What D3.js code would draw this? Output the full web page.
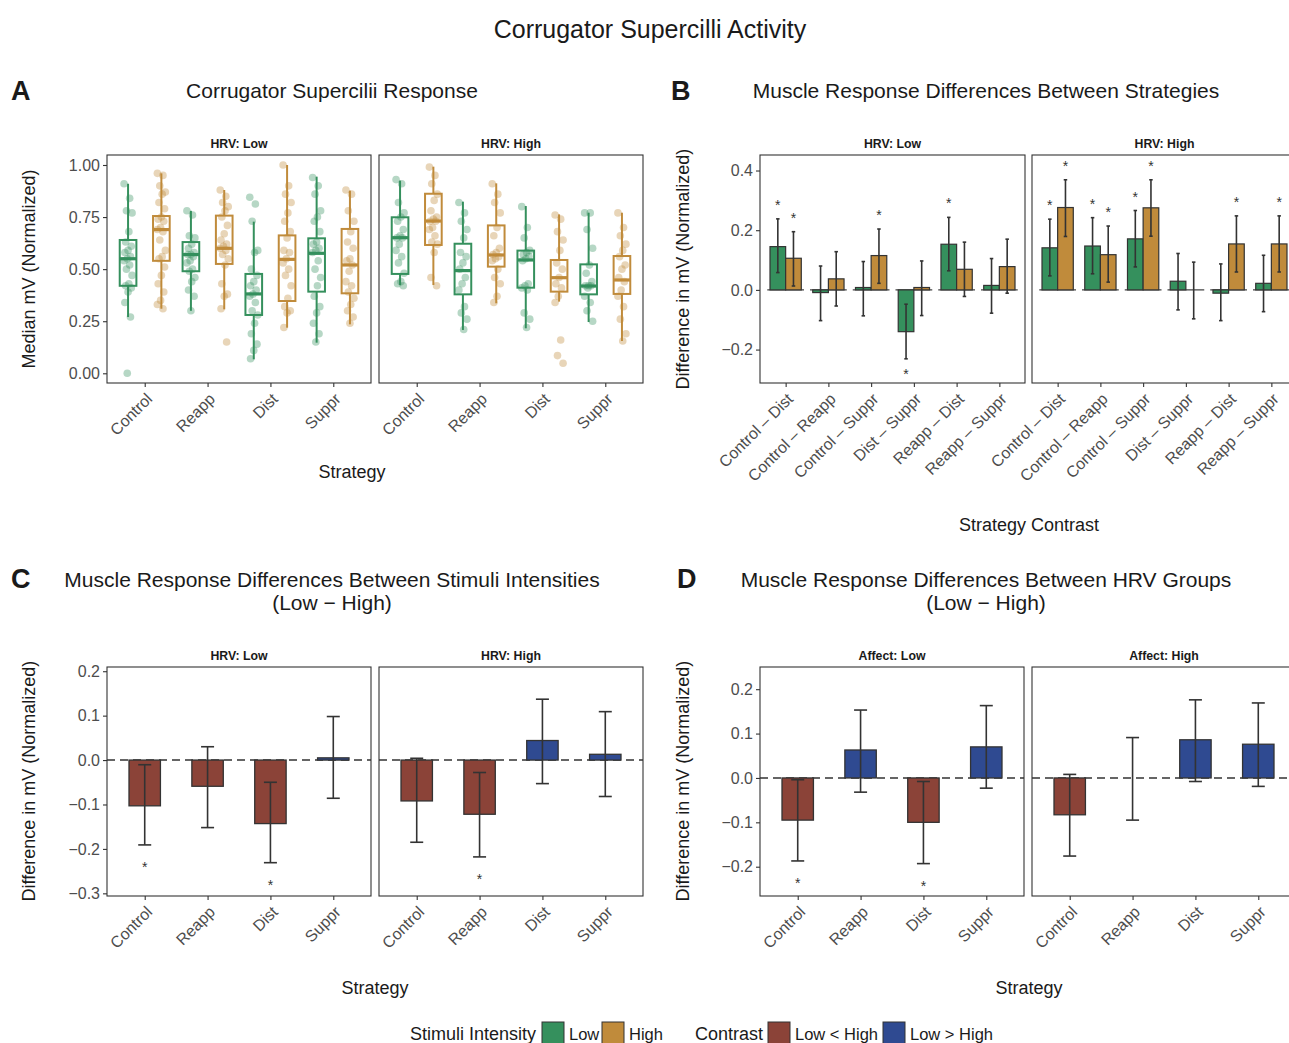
<!DOCTYPE html>
<html><head><meta charset="utf-8">
<script src="https://cdn.jsdelivr.net/npm/d3@7"></script>
<style>
body{margin:0;background:#fff}
svg text{font-family:"Liberation Sans",Arial,Helvetica,sans-serif}
</style>
</head><body>
<svg id="chart" width="1289" height="1043"></svg>
<script>
// ---------------- DATA ----------------
const strategies = ["Control", "Reapp", "Dist", "Suppr"];
const intensities = ["Low", "High"];
const hrvFacets = ["HRV: Low", "HRV: High"];
const affectFacets = ["Affect: Low", "Affect: High"];
const contrasts = ["Control – Dist", "Control – Reapp", "Control – Suppr", "Dist – Suppr", "Reapp – Dist", "Reapp – Suppr"];

const yTicksA = [0, 0.25, 0.5, 0.75, 1.0];
const yTicksB = [-0.2, 0, 0.2, 0.4];
const yTicksC = [-0.3, -0.2, -0.1, 0, 0.1, 0.2];
const yTicksD = [-0.2, -0.1, 0, 0.1, 0.2];

// Panel A: box stats [lower whisker, q1, median, q3, upper whisker] and observed points
const boxHRVLow = [
  {strategy:"Control", intensity:"Low",  stats:[0.27,0.42,0.55,0.64,0.91], points:[0.91,0.84,0.78,0.77,0.68,0.63,0.61,0.59,0.58,0.56,0.55,0.54,0.52,0.50,0.47,0.43,0.42,0.41,0.39,0.34,0.27,0.00]},
  {strategy:"Control", intensity:"High", stats:[0.31,0.54,0.69,0.755,0.96], points:[0.96,0.95,0.90,0.87,0.86,0.82,0.79,0.75,0.74,0.73,0.70,0.69,0.68,0.64,0.59,0.56,0.55,0.51,0.47,0.43,0.39,0.35,0.33,0.31]},
  {strategy:"Reapp",   intensity:"Low",  stats:[0.30,0.49,0.57,0.63,0.78], points:[0.78,0.76,0.66,0.65,0.62,0.60,0.58,0.57,0.57,0.56,0.54,0.53,0.50,0.49,0.46,0.44,0.40,0.37,0.30]},
  {strategy:"Reapp",   intensity:"High", stats:[0.307,0.525,0.60,0.757,0.88], points:[0.88,0.85,0.82,0.80,0.78,0.75,0.71,0.67,0.64,0.62,0.61,0.60,0.59,0.57,0.55,0.52,0.43,0.38,0.37,0.31,0.15]},
  {strategy:"Dist",    intensity:"Low",  stats:[0.067,0.28,0.381,0.477,0.728], points:[0.845,0.813,0.73,0.59,0.58,0.50,0.47,0.44,0.42,0.40,0.38,0.37,0.34,0.30,0.28,0.24,0.19,0.14,0.11,0.07]},
  {strategy:"Dist",    intensity:"High", stats:[0.219,0.347,0.547,0.662,1.0], points:[1.0,0.90,0.86,0.82,0.77,0.73,0.68,0.65,0.59,0.58,0.55,0.53,0.50,0.47,0.42,0.36,0.32,0.30,0.29,0.22]},
  {strategy:"Suppr",   intensity:"Low",  stats:[0.147,0.392,0.576,0.648,0.944], points:[0.94,0.90,0.86,0.78,0.75,0.73,0.68,0.63,0.62,0.60,0.59,0.58,0.54,0.50,0.46,0.42,0.37,0.32,0.29,0.24,0.19,0.15]},
  {strategy:"Suppr",   intensity:"High", stats:[0.235,0.384,0.52,0.693,0.877], points:[0.88,0.86,0.78,0.73,0.68,0.63,0.60,0.55,0.54,0.52,0.49,0.44,0.42,0.39,0.36,0.33,0.30,0.27,0.24]}
];
const boxHRVHigh = [
  {strategy:"Control", intensity:"Low",  stats:[0.424,0.477,0.651,0.749,0.925], points:[0.93,0.91,0.82,0.77,0.75,0.73,0.69,0.66,0.65,0.65,0.62,0.59,0.56,0.53,0.48,0.44,0.43,0.42]},
  {strategy:"Control", intensity:"High", stats:[0.424,0.616,0.731,0.862,0.992], points:[0.99,0.95,0.91,0.86,0.83,0.78,0.75,0.74,0.73,0.73,0.70,0.69,0.66,0.63,0.62,0.58,0.46,0.42]},
  {strategy:"Reapp",   intensity:"Low",  stats:[0.208,0.379,0.493,0.622,0.824], points:[0.82,0.77,0.73,0.69,0.65,0.58,0.56,0.53,0.50,0.46,0.43,0.40,0.32,0.29,0.26,0.21]},
  {strategy:"Reapp",   intensity:"High", stats:[0.336,0.512,0.568,0.71,0.912], points:[0.91,0.86,0.82,0.77,0.70,0.66,0.60,0.58,0.57,0.56,0.55,0.54,0.50,0.46,0.43,0.37,0.34]},
  {strategy:"Dist",    intensity:"Low",  stats:[0.216,0.411,0.544,0.589,0.803], points:[0.80,0.70,0.65,0.59,0.58,0.57,0.56,0.55,0.54,0.43,0.42,0.41,0.40,0.29,0.26,0.22]},
  {strategy:"Dist",    intensity:"High", stats:[0.344,0.392,0.459,0.544,0.763], points:[0.76,0.74,0.68,0.64,0.59,0.53,0.50,0.46,0.43,0.41,0.37,0.34,0.16,0.085,0.048]},
  {strategy:"Suppr",   intensity:"Low",  stats:[0.246,0.379,0.419,0.523,0.771], points:[0.77,0.77,0.69,0.60,0.52,0.48,0.44,0.42,0.42,0.42,0.41,0.37,0.34,0.30,0.25]},
  {strategy:"Suppr",   intensity:"High", stats:[0.155,0.381,0.448,0.563,0.771], points:[0.77,0.70,0.66,0.62,0.59,0.56,0.52,0.50,0.46,0.44,0.40,0.37,0.32,0.26,0.19,0.155]}
];

// Panel B: [estimate, lower CI, upper CI, significant]
const diffHRVLowLowInt  = [[0.145,0.058,0.238,1],[-0.009,-0.103,0.080,0],[0.008,-0.087,0.095,0],[-0.140,-0.231,-0.048,1],[0.153,0.064,0.243,1],[0.015,-0.078,0.105,0]];
const diffHRVLowHighInt = [[0.106,0.013,0.195,1],[0.037,-0.054,0.128,0],[0.115,0.022,0.204,1],[0.008,-0.086,0.097,0],[0.069,-0.022,0.160,0],[0.078,-0.011,0.170,0]];
const diffHRVHighLowInt = [[0.141,0.047,0.237,1],[0.147,0.054,0.242,1],[0.171,0.077,0.266,1],[0.029,-0.067,0.122,0],[-0.011,-0.103,0.087,0],[0.022,-0.073,0.116,0]];
const diffHRVHighHighInt= [[0.276,0.179,0.369,1],[0.118,0.026,0.214,1],[0.275,0.180,0.369,1],[0.000,-0.097,0.093,0],[0.154,0.060,0.248,1],[0.154,0.060,0.248,1]];

// Panel C: intensity contrast (Low - High) by strategy
const intensHRVLow  = [[-0.103,-0.191,-0.0105,1],[-0.059,-0.152,0.030,0],[-0.143,-0.231,-0.050,1],[0.005,-0.086,0.098,0]];
const intensHRVHigh = [[-0.092,-0.185,0.004,0],[-0.122,-0.218,-0.028,1],[0.044,-0.053,0.137,0],[0.013,-0.082,0.109,0]];

// Panel D: HRV contrast (Low - High) by strategy
const hrvAffectLow  = [[-0.095,-0.187,-0.004,1],[0.063,-0.032,0.153,0],[-0.100,-0.193,-0.008,1],[0.070,-0.023,0.163,0]];
const hrvAffectHigh = [[-0.083,-0.176,0.008,0],[0.000,-0.095,0.091,0],[0.086,-0.008,0.176,0],[0.076,-0.019,0.169,0]];

// ---------------- STYLE ----------------
const GREEN = "#35905D", GOLD = "#C08B3B", RED = "#8B4338", BLUE = "#2F4A91";
const INK = "#333333", TICKTXT = "#4D4D4D";
const intensityColor = {Low: GREEN, High: GOLD};

const svg = d3.select("#chart");

function txt(x, y, s, size, opts = {}) {
  const t = svg.append("text").attr("x", x).attr("y", y).text(s)
    .attr("font-size", size).attr("fill", opts.fill || "#1a1a1a")
    .attr("text-anchor", opts.anchor || "middle");
  if (opts.bold) t.attr("font-weight", "bold");
  if (opts.rotate) t.attr("transform", `rotate(-90,${x},${y})`);
  return t;
}

function frame(x0, x1, y0, y1, cats, strip) {
  const x = d3.scalePoint().domain(cats).range([x0, x1]).padding(0.6);
  svg.append("rect").attr("x", x0).attr("y", y0).attr("width", x1 - x0).attr("height", y1 - y0)
    .attr("fill", "none").attr("stroke", INK).attr("stroke-width", 1.1);
  const g = svg.append("g").attr("transform", `translate(0,${y1})`)
    .call(d3.axisBottom(x).tickSize(4).tickSizeOuter(0));
  g.select(".domain").remove();
  g.selectAll(".tick line").attr("stroke", INK).attr("stroke-width", 1.1);
  g.selectAll(".tick text").attr("fill", TICKTXT).attr("font-size", 16)
    .attr("font-family", '"Liberation Sans",Arial,sans-serif')
    .attr("text-anchor", "end").attr("x", 0).attr("y", 0).attr("dy", 0)
    .attr("transform", "translate(8,17) rotate(-45)");
  txt((x0 + x1) / 2, y0 - 7.5, strip, 12.3, {bold: true, fill: "#1a1a1a"});
  return x;
}

function yAxis(y, x0, ticks, fmt) {
  const g = svg.append("g").attr("transform", `translate(${x0},0)`)
    .call(d3.axisLeft(y).tickValues(ticks).tickFormat(fmt).tickSize(4).tickPadding(3));
  g.select(".domain").remove();
  g.selectAll(".tick line").attr("stroke", INK).attr("stroke-width", 1.1);
  g.selectAll(".tick text").attr("fill", TICKTXT).attr("font-size", 16)
    .attr("font-family", '"Liberation Sans",Arial,sans-serif');
}

const fmt1 = d3.format(".1f");
const fmt2 = d3.format(".2f");

// ---------------- TITLES ----------------
txt(650, 38, "Corrugator Supercilli Activity", 25);
txt(11, 100, "A", 27, {bold: true, anchor: "start"});
txt(671, 100, "B", 27, {bold: true, anchor: "start"});
txt(11, 588, "C", 27, {bold: true, anchor: "start"});
txt(677, 588, "D", 27, {bold: true, anchor: "start"});
txt(332, 98, "Corrugator Supercilii Response", 21);
txt(986, 98, "Muscle Response Differences Between Strategies", 21);
txt(332, 587, "Muscle Response Differences Between Stimuli Intensities", 21);
txt(332, 610, "(Low − High)", 21);
txt(986, 587, "Muscle Response Differences Between HRV Groups", 21);
txt(986, 610, "(Low − High)", 21);

// ---------------- PANEL A ----------------
const yA = d3.scaleLinear().domain([-0.0466, 1.048]).range([383, 155]);
yAxis(yA, 107, yTicksA, fmt2);
txt(35, 269, "Median mV (Normalized)", 18, {rotate: true});
txt(352, 478, "Strategy", 18);

[[107, 371, hrvFacets[0], boxHRVLow], [379, 643, hrvFacets[1], boxHRVHigh]].forEach(([x0, x1, lab, data]) => {
  const x = frame(x0, x1, 155, 383, strategies, lab);
  const step = x.step();
  const off = {Low: -0.265 * step, High: 0.265 * step};
  const bw = 0.265 * step;
  data.forEach(d => {
    const cx = x(d.strategy) + off[d.intensity];
    const col = intensityColor[d.intensity];
    const [lo, q1, md, q3, hi] = d.stats;
    const g = svg.append("g");
    g.append("line").attr("x1", cx).attr("x2", cx).attr("y1", yA(hi)).attr("y2", yA(q3)).attr("stroke", col).attr("stroke-width", 2);
    g.append("line").attr("x1", cx).attr("x2", cx).attr("y1", yA(q1)).attr("y2", yA(lo)).attr("stroke", col).attr("stroke-width", 2);
    g.append("rect").attr("x", cx - bw / 2).attr("y", yA(q3)).attr("width", bw).attr("height", yA(q1) - yA(q3))
      .attr("fill", "none").attr("stroke", col).attr("stroke-width", 2);
    g.append("line").attr("x1", cx - bw / 2).attr("x2", cx + bw / 2).attr("y1", yA(md)).attr("y2", yA(md)).attr("stroke", col).attr("stroke-width", 3.2);
    g.selectAll("circle").data(d.points).join("circle")
      .attr("cx", (v, i) => cx + (((i * 7) % 11) - 5) * 0.8)
      .attr("cy", v => yA(v)).attr("r", 3.8)
      .attr("fill", col).attr("fill-opacity", 0.36);
  });
});

// ---------------- PANEL B ----------------
const yB = d3.scaleLinear().domain([-0.312, 0.452]).range([383, 155]);
yAxis(yB, 760, yTicksB, fmt1);
txt(689, 269, "Difference in mV (Normalized)", 18, {rotate: true});
txt(1029, 531, "Strategy Contrast", 18);

function errbar(cx, lo, hi, y, cap) {
  svg.append("line").attr("x1", cx).attr("x2", cx).attr("y1", y(lo)).attr("y2", y(hi)).attr("stroke", INK).attr("stroke-width", 1.6);
  [lo, hi].forEach(v => svg.append("line").attr("x1", cx - cap / 2).attr("x2", cx + cap / 2).attr("y1", y(v)).attr("y2", y(v)).attr("stroke", INK).attr("stroke-width", 1.6));
}
function star(cx, cyCenter) {
  svg.append("text").attr("x", cx).attr("y", cyCenter + 8).attr("text-anchor", "middle")
    .attr("font-size", 14).attr("fill", INK).text("*");
}

[[760, 1025, hrvFacets[0], diffHRVLowLowInt, diffHRVLowHighInt], [1032, 1297, hrvFacets[1], diffHRVHighLowInt, diffHRVHighHighInt]]
.forEach(([x0, x1, lab, lowArr, highArr]) => {
  const x = frame(x0, x1, 155, 383, contrasts, lab);
  const step = x.step();
  const bw = 0.366 * step;
  contrasts.forEach((c, i) => {
    svg.append("line").attr("x1", x(c) - 0.43 * step).attr("x2", x(c) + 0.43 * step)
      .attr("y1", yB(0)).attr("y2", yB(0)).attr("stroke", "#444").attr("stroke-width", 1.3);
  });
  [["Low", lowArr, -1], ["High", highArr, 1]].forEach(([int, arr, side]) => {
    arr.forEach((d, i) => {
      const [est, lo, hi, sig] = d;
      const left = side < 0 ? x(contrasts[i]) - bw : x(contrasts[i]);
      const cx = left + bw / 2;
      svg.append("rect").attr("x", left).attr("width", bw)
        .attr("y", yB(Math.max(est, 0))).attr("height", Math.abs(yB(est) - yB(0)))
        .attr("fill", intensityColor[int]).attr("stroke", INK).attr("stroke-width", 1.2);
      errbar(cx, lo, hi, yB, 3.5);
      if (sig) {
        if (est > 0) star(cx, yB(hi) - 17);
        else star(cx, yB(lo) + 12);
      }
    });
  });
});

// ---------------- PANELS C & D ----------------
function contrastPanel(facets, yScale, ticks, ytitleX, xtitleX) {
  yAxis(yScale, facets[0][0], ticks, fmt1);
  txt(ytitleX, 781, "Difference in mV (Normalized)", 18, {rotate: true});
  txt(xtitleX, 994, "Strategy", 18);
  facets.forEach(([x0, x1, lab, arr]) => {
    const x = frame(x0, x1, 667, 896, strategies, lab);
    const step = x.step();
    const bw = 0.5 * step;
    svg.append("line").attr("x1", x0).attr("x2", x1).attr("y1", yScale(0)).attr("y2", yScale(0))
      .attr("stroke", INK).attr("stroke-width", 1.6).attr("stroke-dasharray", "8,5");
    arr.forEach((d, i) => {
      const [est, lo, hi, sig] = d;
      const cx = x(strategies[i]);
      svg.append("rect").attr("x", cx - bw / 2).attr("width", bw)
        .attr("y", yScale(Math.max(est, 0))).attr("height", Math.abs(yScale(est) - yScale(0)))
        .attr("fill", est > 0 ? BLUE : RED).attr("stroke", INK).attr("stroke-width", 1.3);
      errbar(cx, lo, hi, yScale, 13);
      if (sig) star(cx, yScale(lo) + 19);
    });
  });
}

const yC = d3.scaleLinear().domain([-0.306, 0.2095]).range([896, 667]);
contrastPanel([[107, 371, hrvFacets[0], intensHRVLow], [379, 643, hrvFacets[1], intensHRVHigh]], yC, yTicksC, 35, 375);

const yD = d3.scaleLinear().domain([-0.266, 0.25]).range([896, 667]);
contrastPanel([[760, 1024, affectFacets[0], hrvAffectLow], [1032, 1296, affectFacets[1], hrvAffectHigh]], yD, yTicksD, 689, 1029);

// ---------------- LEGEND ----------------
const legendItems = [
  {type: "title", label: "Stimuli Intensity", x: 410},
  {type: "key", color: GREEN, x: 542, label: "Low"},
  {type: "key", color: GOLD, x: 602, label: "High"},
  {type: "title", label: "Contrast", x: 695},
  {type: "key", color: RED, x: 768, label: "Low < High"},
  {type: "key", color: BLUE, x: 883, label: "Low > High"}
];
legendItems.forEach(it => {
  if (it.type === "title") {
    txt(it.x, 1040, it.label, 18, {anchor: "start"});
  } else {
    svg.append("rect").attr("x", it.x).attr("y", 1022).attr("width", 22).attr("height", 22)
      .attr("fill", it.color).attr("stroke", INK).attr("stroke-width", 1);
    txt(it.x + 27, 1040, it.label, 16.5, {anchor: "start"});
  }
});
</script>
</body></html>
